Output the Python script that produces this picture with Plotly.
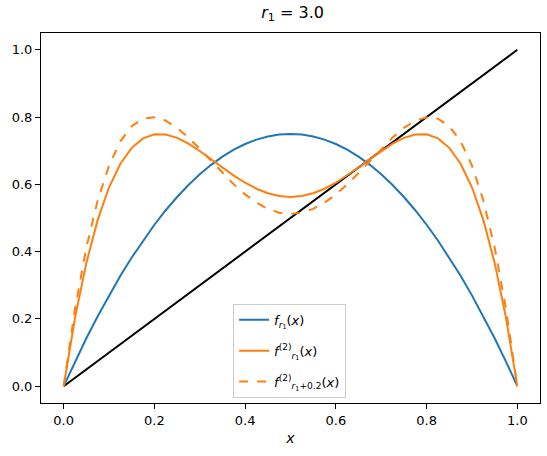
import plotly.graph_objects as go

# x sample positions
x_vals = [0.0, 0.025, 0.05, 0.075, 0.1, 0.125, 0.15, 0.175, 0.2, 0.225, 0.25,
          0.275, 0.3, 0.325, 0.35, 0.375, 0.4, 0.425, 0.45, 0.475, 0.5,
          0.525, 0.55, 0.575, 0.6, 0.625, 0.65, 0.675, 0.7, 0.725, 0.75,
          0.775, 0.8, 0.825, 0.85, 0.875, 0.9, 0.925, 0.95, 0.975, 1.0]

# f_{r1}(x), r1 = 3.0
f_r1 = [0.0, 0.0731, 0.1425, 0.2081, 0.27, 0.3281, 0.3825, 0.4331, 0.48, 0.5231, 0.5625,
        0.5981, 0.63, 0.6581, 0.6825, 0.7031, 0.72, 0.7331, 0.7425, 0.7481, 0.75,
        0.7481, 0.7425, 0.7331, 0.72, 0.7031, 0.6825, 0.6581, 0.63, 0.5981, 0.5625,
        0.5231, 0.48, 0.4331, 0.3825, 0.3281, 0.27, 0.2081, 0.1425, 0.0731, 0.0]

# f^{(2)}_{r1}(x)
f2_r1 = [0.0, 0.2033, 0.3666, 0.4944, 0.5913, 0.6614, 0.7086, 0.7366, 0.7488, 0.7484, 0.7383,
         0.7211, 0.6993, 0.6750, 0.6501, 0.6262, 0.6048, 0.5870, 0.5736, 0.5653, 0.5625,
         0.5653, 0.5736, 0.5870, 0.6048, 0.6262, 0.6501, 0.6750, 0.6993, 0.7211, 0.7383,
         0.7484, 0.7488, 0.7366, 0.7086, 0.6614, 0.5913, 0.4944, 0.3666, 0.2033, 0.0]

# f^{(2)}_{r1+0.2}(x)
f2_r1p = [0.0, 0.2301, 0.4125, 0.5527, 0.6562, 0.728, 0.7729, 0.7954, 0.7995, 0.7892, 0.768,
          0.7391, 0.7053, 0.6694, 0.6337, 0.6, 0.5702, 0.5455, 0.5272, 0.5158, 0.512,
          0.5158, 0.5272, 0.5455, 0.5702, 0.6, 0.6337, 0.6694, 0.7053, 0.7391, 0.768,
          0.7892, 0.7995, 0.7954, 0.7729, 0.728, 0.6562, 0.5527, 0.4125, 0.2301, 0.0]

# identity line endpoints
diag_x = [0.0, 1.0]
diag_y = [0.0, 1.0]

x_ticks = [0.0, 0.2, 0.4, 0.6, 0.8, 1.0]
y_ticks = [0.0, 0.2, 0.4, 0.6, 0.8, 1.0]
tick_text = ["0.0", "0.2", "0.4", "0.6", "0.8", "1.0"]

FONT = "DejaVu Sans"

fig = go.Figure()
fig.add_trace(go.Scatter(x=diag_x, y=diag_y, mode="lines",
                         line=dict(color="black", width=2), showlegend=False))
fig.add_trace(go.Scatter(x=x_vals, y=f_r1, mode="lines", legendgroup="a",
                         line=dict(color="#1f77b4", width=2),
                         name="<i>f</i><sub><i>r</i><sub>1</sub></sub>(<i>x</i>)"))
fig.add_trace(go.Scatter(x=x_vals, y=f2_r1, mode="lines", legendgroup="b",
                         line=dict(color="#ff7f0e", width=2),
                         name="<i>f</i><sup>(2)</sup><sub><i>r</i><sub>1</sub></sub>(<i>x</i>)"))
fig.add_trace(go.Scatter(x=x_vals, y=f2_r1p, mode="lines", legendgroup="c",
                         line=dict(color="#ff7f0e", width=2, dash="dash"),
                         name="<i>f</i><sup>(2)</sup><sub><i>r</i><sub>1</sub>+0.2</sub>(<i>x</i>)"))

axis_common = dict(showgrid=False, zeroline=False, showline=True, mirror=True,
                   linecolor="black", linewidth=1, ticks="outside", ticklen=5,
                   tickcolor="black", tickwidth=1,
                   tickfont=dict(family=FONT, size=13, color="black"))

fig.update_layout(
    width=547, height=456,
    margin=dict(l=41, r=7, t=33, b=53),
    paper_bgcolor="white", plot_bgcolor="white",
    font=dict(family=FONT, color="black"),
    title=dict(text="<i>r</i><sub>1</sub> = 3.0", x=0.535, xanchor="center",
               y=0.985, yanchor="top", font=dict(family=FONT, size=16, color="black")),
    xaxis=dict(range=[-0.05, 1.05], tickvals=x_ticks, ticktext=tick_text,
               title=dict(text="<i>x</i>", font=dict(family=FONT, size=14), standoff=6),
               **axis_common),
    yaxis=dict(range=[-0.05, 1.05], tickvals=y_ticks, ticktext=tick_text, **axis_common),
    legend=dict(x=0.385, y=0.268, xanchor="left", yanchor="top",
                bgcolor="white", bordercolor="#cccccc", borderwidth=1,
                font=dict(family=FONT, size=13, color="black"),
                tracegroupgap=11, traceorder="grouped"),
)

fig.write_html("out.html")
